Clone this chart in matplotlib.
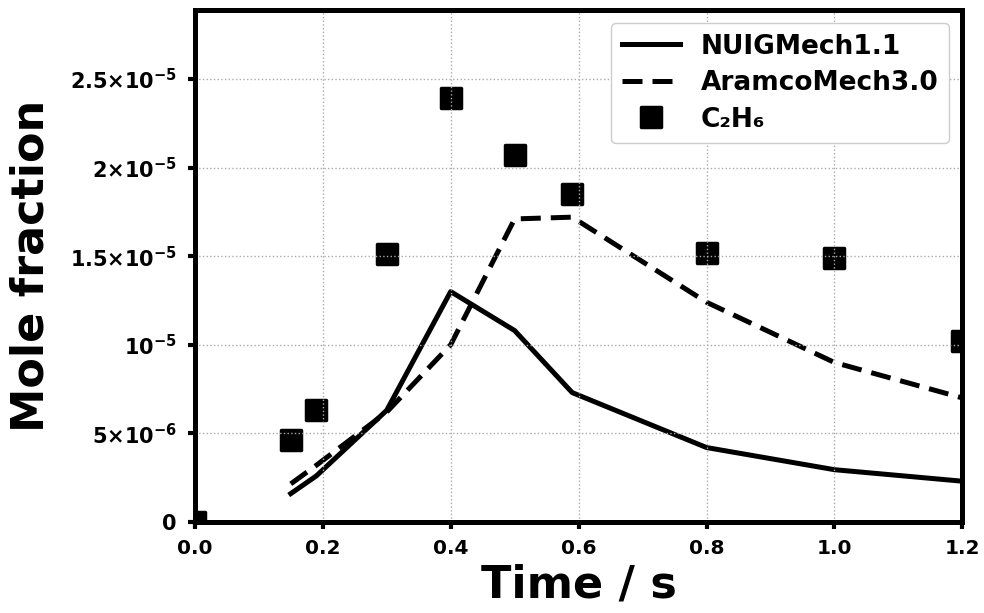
import numpy as np
import matplotlib
matplotlib.use('Agg')
import matplotlib.pyplot as plt
from matplotlib.markers import MarkerStyle
from matplotlib.ticker import FixedLocator, FixedFormatter

# 시간 (s)
t_exp = [0.0, 0.15, 0.19, 0.3, 0.4, 0.5, 0.59, 0.8, 1.0, 1.2]
c2h6_exp = [0.0, 4.6e-6, 6.3e-6, 1.51e-5, 2.395e-5, 2.07e-5, 1.853e-5, 1.52e-5, 1.49e-5, 1.02e-5]

t_model = [0.15, 0.19, 0.3, 0.4, 0.5, 0.59, 0.8, 1.0, 1.2]
nuig = [1.6e-6, 2.6e-6, 6.3e-6, 1.30e-5, 1.08e-5, 7.3e-6, 4.2e-6, 2.95e-6, 2.3e-6]
aramco = [2.15e-6, 3.2e-6, 6.2e-6, 1.0e-5, 1.71e-5, 1.72e-5, 1.24e-5, 9.0e-6, 7.0e-6]

x_ticks = [0.0, 0.2, 0.4, 0.6, 0.8, 1.0, 1.2]
y_ticks = [0, 5e-6, 1e-5, 1.5e-5, 2e-5, 2.5e-5]
y_ticklabels = [r'$\mathbf{0}$', r'$\mathbf{5{\times}10^{-6}}$', r'$\mathbf{10^{-5}}$',
                r'$\mathbf{1.5{\times}10^{-5}}$', r'$\mathbf{2{\times}10^{-5}}$',
                r'$\mathbf{2.5{\times}10^{-5}}$']

plt.rcParams['font.family'] = ['DejaVu Sans']
plt.rcParams['font.weight'] = 'bold'
plt.rcParams['mathtext.fontset'] = 'dejavusans'

fig = plt.figure(figsize=(9.84, 6.13), dpi=100)
ax = fig.add_axes([0.198, 0.1485, 0.780, 0.8355])

ax.plot(t_model, nuig, 'k-', lw=3.6, label='NUIGMech1.1')
ax.plot(t_model, aramco, 'k--', lw=3.6, dashes=(4, 2), label='AramcoMech3.0')
ax.plot(t_exp, c2h6_exp, linestyle='none', marker=MarkerStyle('s', joinstyle='round'),
        color='k', ms=14, mec='k', mew=2.5, label='C₂H₆')

ax.set_xlim(0, 1.2)
ax.set_ylim(0, 2.89e-5)
ax.set_xticks(x_ticks)
ax.set_xticklabels(['%.1f' % v for v in x_ticks])
ax.yaxis.set_major_locator(FixedLocator(y_ticks))
ax.yaxis.set_major_formatter(FixedFormatter(y_ticklabels))
ax.tick_params(axis='x', labelsize=14.5, width=3, length=5, direction='out', pad=7)
ax.tick_params(axis='y', labelsize=15, width=3, length=5, direction='out', pad=8)
for lab in ax.get_xticklabels():
    lab.set_fontweight('bold')

for s in ax.spines.values():
    s.set_linewidth(3.6)
    s.set_zorder(4)

ax.grid(True, linestyle=':', color='#aaaaaa', lw=1.0, zorder=3)
ax.set_axisbelow(False)

ax.set_xlabel('Time / s', fontsize=32, fontweight='bold', labelpad=4)
ax.set_ylabel('Mole fraction', fontsize=32, fontweight='bold', labelpad=12)

leg = ax.legend(loc='upper right', fontsize=19, handlelength=2.2, borderpad=0.4,
                labelspacing=0.4, handletextpad=0.8, framealpha=1.0, fancybox=True,
                borderaxespad=0.5)
leg.get_frame().set_edgecolor('#cccccc')
for txt in leg.get_texts():
    txt.set_fontweight('bold')

fig.savefig('out.png', dpi=100)
